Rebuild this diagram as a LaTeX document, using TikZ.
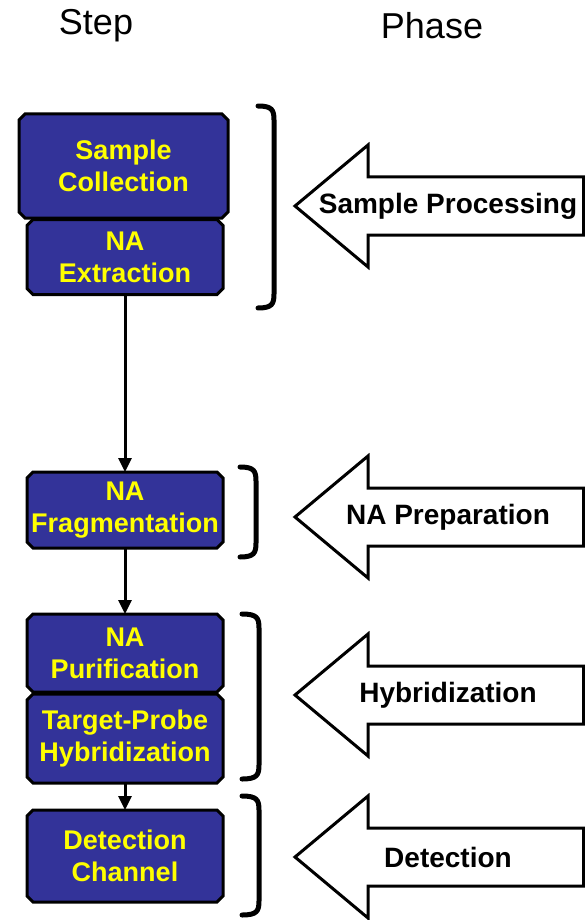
\documentclass[tikz,border=0pt]{standalone}
\usepackage{fontspec}
\setmainfont{Liberation Sans}
\usetikzlibrary{shapes.misc,arrows.meta}
\definecolor{stepblue}{RGB}{51,51,153}
\definecolor{stepyellow}{RGB}{255,255,0}

\begin{document}
\begin{tikzpicture}[x=1pt,y=-1pt]


 \tikzset{
    box/.style={
      chamfered rectangle,
      chamfered rectangle xsep=3pt,
      chamfered rectangle ysep=3pt,
      minimum width=196pt,
      inner sep=0pt,
      outer sep=0pt,
      fill=stepblue,
      line width=3pt,
      text=stepyellow,
      font=\bfseries\fontsize{27}{32}\selectfont,
      align=center,
    draw
    },
    link/.style={line width=3pt, -{Triangle[width=13pt,length=14pt]}},
    brace/.style={line width=5pt, line cap=round},
    phase/.style={line width=3pt, fill=white, draw, line join=miter},
    lab/.style={font=\bfseries\fontsize{28}{32}\selectfont}
  }

\useasboundingbox (0,0) rectangle (585,920);

\node[font=\fontsize{36}{42}\selectfont] (stephead) at (96,26) {Step};
\node[font=\fontsize{36}{42}\selectfont] (phasehead) at (432,26) {Phase};

\node[box, minimum width=209pt, minimum height=104pt] (coll) at (123.5,166) {Sample\\Collection};
\node[box, minimum height=75pt] (extr) at (125,257) {NA\\Extraction};
\node[box, minimum height=76pt] (frag) at (125,510) {NA\\Fragmentation};
\node[box, minimum height=78pt] (puri) at (125,653) {NA\\Purification};
\node[box, minimum height=89pt] (hybr) at (125,738.5) {Target-Probe\\Hybridization};
\node[box, minimum height=92pt] (dete) at (125,856) {Detection\\Channel};

\draw[link] (extr.south) -- (frag.north);
\draw[link] (frag.south) -- (puri.north);
\draw[link] (hybr.south) -- (dete.north);

\foreach \xa/\xb/\ya/\yb in {258/274/106/308, 240/256/467/557, 242/259/614/779, 242/259/796/915}
    \draw[brace] (\xa,\ya) .. controls (\xb-2,\ya) and (\xb,\ya+4) .. (\xb,\ya+14)
        -- (\xb,\yb-14) .. controls (\xb,\yb-4) and (\xb-2,\yb) .. (\xa,\yb);

\foreach \yc/\txt/\nm in {206/Sample Processing/sproc, 517/NA Preparation/naprep, 695/Hybridization/hybph, 857/Detection/detph} {
    \draw[phase] (295,\yc) -- (368,\yc-61) -- (368,\yc-29) -- (583.5,\yc-29)
        -- (583.5,\yc+29) -- (368,\yc+29) -- (368,\yc+61) -- cycle;
    \node[lab] (\nm) at (448,\yc) {\txt};
}

\end{tikzpicture}
\end{document}
